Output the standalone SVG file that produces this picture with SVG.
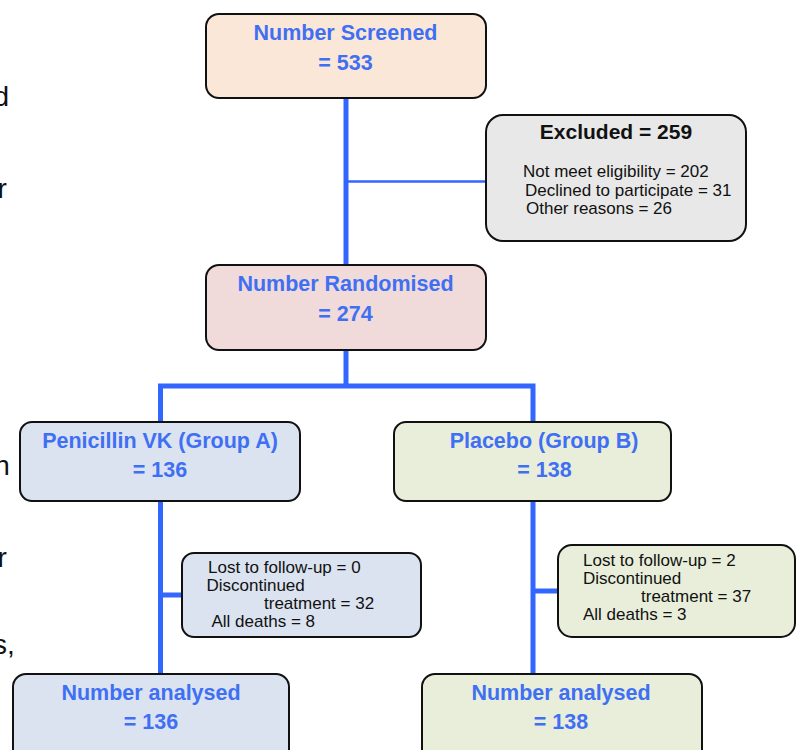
<svg xmlns="http://www.w3.org/2000/svg" width="799" height="750" viewBox="0 0 799 750">
<style>
.box{stroke:#111;stroke-width:2}
.t{font-family:"Liberation Sans",Arial,sans-serif;font-weight:bold;font-size:21.5px;fill:#3F6FF3;text-anchor:middle}
.h{font-family:"Liberation Sans",Arial,sans-serif;font-weight:bold;font-size:21px;fill:#111;text-anchor:middle}
.s{font-family:"Liberation Sans",Arial,sans-serif;font-size:17px;fill:#111}
.f{font-family:"Liberation Sans",Arial,sans-serif;font-size:28px;fill:#111}
.c{fill:none;stroke:#3366FF;stroke-width:5}
.peach{fill:#FBE7D8}.grey{fill:#E8E8E8}.pink{fill:#F0DADA}.blue{fill:#DBE3F0}.green{fill:#E8EEDA}
</style>
<rect width="799" height="750" fill="#fff"/>
<g id="fragments">
<text class="f" x="-6.5" y="106">d</text>
<text class="f" x="-2.5" y="198">r</text>
<text class="f" x="-5.7" y="475">n</text>
<text class="f" x="-2.5" y="567">r</text>
<text class="f" x="-7" y="654">s,</text>
</g>
<g id="connectors">
<path class="c" d="M346,98 V265"/>
<path class="c" d="M346,181.5 H486" style="stroke-width:2.5"/>
<path class="c" d="M346,350 V386"/>
<path class="c" d="M160.5,422 V386 H533 V422"/>
<path class="c" d="M160.5,501 V674"/>
<path class="c" d="M160.5,595 H182"/>
<path class="c" d="M533,501 V674"/>
<path class="c" d="M533,591 H558"/>
</g>
<g id="screened">
<rect class="box peach" x="206" y="14" width="280" height="84" rx="13"/>
<text class="t" x="345.5" y="40">Number Screened</text>
<text class="t" x="345.5" y="70">= 533</text>
</g>
<g id="excluded">
<rect class="box grey" x="486" y="115" width="260" height="126" rx="17"/>
<text class="h" x="616" y="139">Excluded = 259</text>
<text class="s" x="523" y="177">Not meet eligibility = 202</text>
<text class="s" x="525" y="195.5">Declined to participate = 31</text>
<text class="s" x="526" y="214">Other reasons = 26</text>
</g>
<g id="randomised">
<rect class="box pink" x="206" y="265" width="280" height="85" rx="13"/>
<text class="t" x="345.5" y="291">Number Randomised</text>
<text class="t" x="345.5" y="321">= 274</text>
</g>
<g id="groupA">
<rect class="box blue" x="20" y="422" width="280" height="79" rx="12"/>
<text class="t" x="160" y="448">Penicillin VK (Group A)</text>
<text class="t" x="160" y="477">= 136</text>
</g>
<g id="groupB">
<rect class="box green" x="394" y="422" width="277" height="79" rx="12"/>
<text class="t" x="544" y="448">Placebo (Group B)</text>
<text class="t" x="544.5" y="477">= 138</text>
</g>
<g id="dropoutA">
<rect class="box blue" x="182" y="553" width="239" height="84" rx="12"/>
<text class="s" x="208" y="573">Lost to follow-up = 0</text>
<text class="s" x="206.5" y="591">Discontinued</text>
<text class="s" x="264" y="609">treatment = 32</text>
<text class="s" x="211.5" y="627">All deaths = 8</text>
</g>
<g id="dropoutB">
<rect class="box green" x="558" y="545" width="237" height="92" rx="14"/>
<text class="s" x="583" y="566">Lost to follow-up = 2</text>
<text class="s" x="583" y="584">Discontinued</text>
<text class="s" x="641" y="602">treatment = 37</text>
<text class="s" x="583" y="620">All deaths = 3</text>
</g>
<g id="analysedA">
<rect class="box blue" x="13" y="674" width="276" height="96" rx="13"/>
<text class="t" x="151" y="699.5">Number analysed</text>
<text class="t" x="151" y="728.5">= 136</text>
</g>
<g id="analysedB">
<rect class="box green" x="422" y="674" width="280" height="96" rx="13"/>
<text class="t" x="561" y="699.5">Number analysed</text>
<text class="t" x="561" y="728.5">= 138</text>
</g>
</svg>
